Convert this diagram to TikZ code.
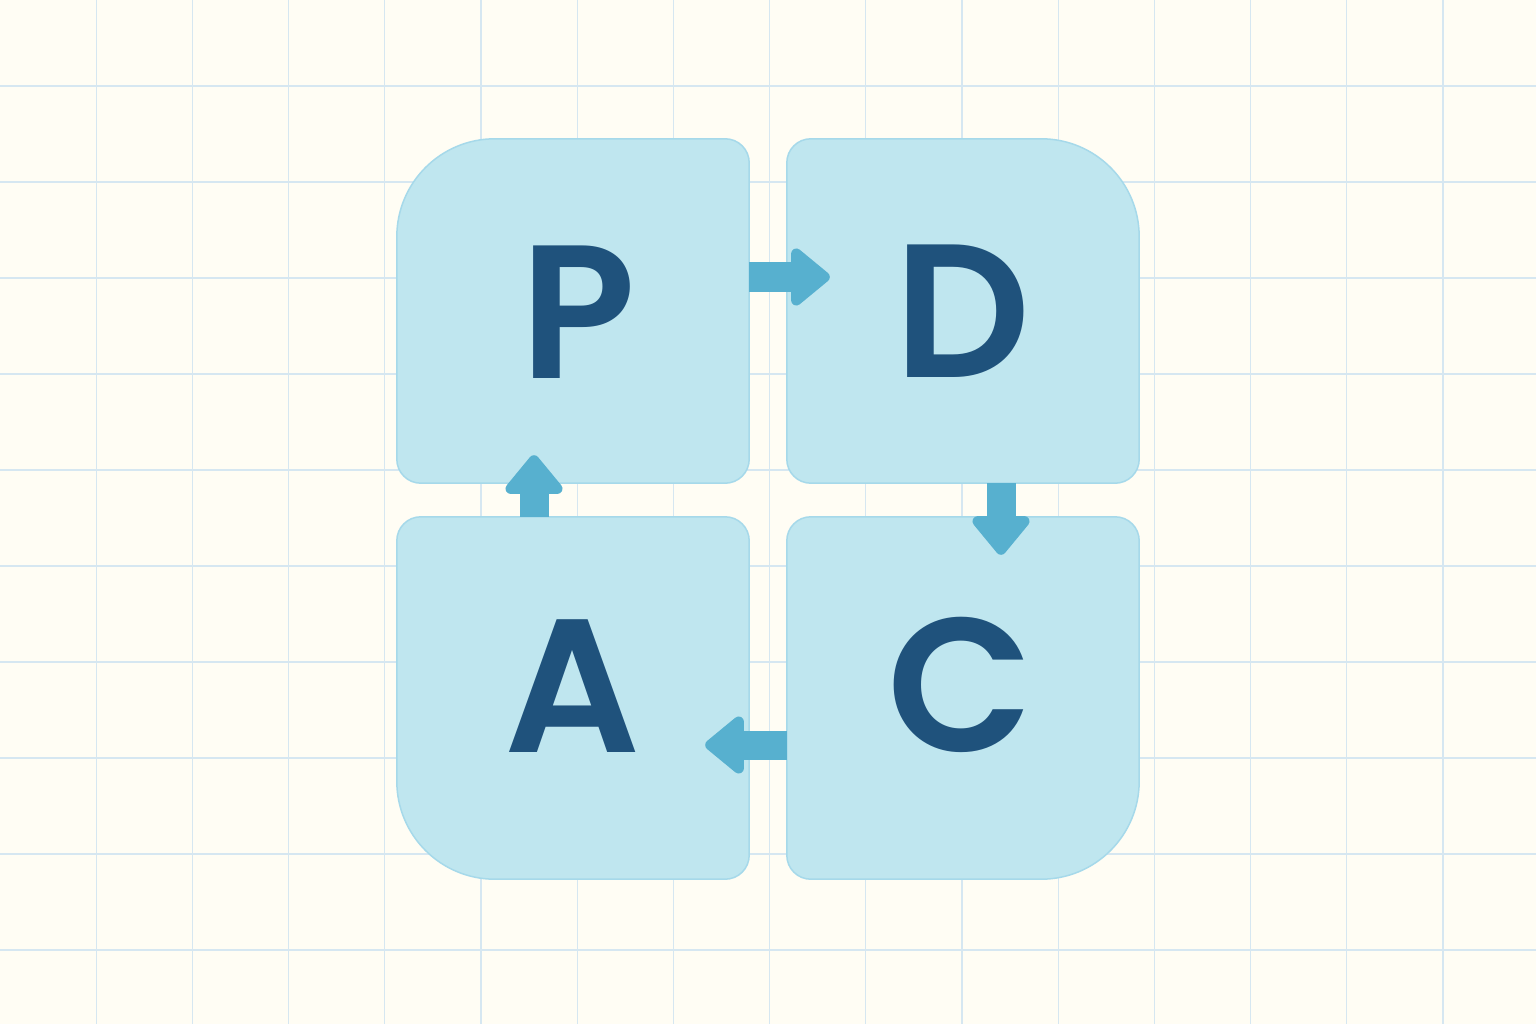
\documentclass[tikz,border=0pt]{standalone}
\usepackage{fontspec}
\setmainfont{Poppins}[BoldFont={Poppins SemiBold}]
\usetikzlibrary{arrows.meta}
\definecolor{paper}{HTML}{FFFDF4}
\definecolor{gridline}{HTML}{D6E7F1}
\definecolor{tilefill}{HTML}{BFE6EF}
\definecolor{tileedge}{HTML}{A6D9EA}
\definecolor{letterblue}{HTML}{1F527C}
\definecolor{flowblue}{HTML}{57B0CF}
\def\dtile{\path[tile]}
\tikzset{
  box/.style={minimum width=352pt, minimum height=344pt, inner sep=0pt},
  tall/.style={box, minimum height=362pt},
  tile/.style={fill=tilefill, draw=tileedge, line width=1.5pt},
  letter/.style={text=letterblue, inner sep=0pt, font=\fontsize{190}{190}\selectfont\bfseries},
  flow/.style={draw=flowblue, line width=29pt, -{Triangle[length=42pt,width=66pt,round]}},
}

\begin{document}
\begin{tikzpicture}[x=1pt,y=-1pt]
\useasboundingbox (0,0) rectangle (1536,1024);
\fill[paper] (0,0) rectangle (1536,1024);
\foreach \i in {1,...,15} \draw[gridline,line width=1.2pt] (96.2*\i,0) -- (96.2*\i,1024);
\foreach \j in {0,...,9} \draw[gridline,line width=1.2pt] (0,86+96*\j) -- (1536,86+96*\j);

% the four quarters
\node[box]  (P) at (573,311) {};
\node[box]  (D) at (963,311) {};
\node[tall] (A) at (573,698) {};
\node[tall] (C) at (963,698) {};

\dtile (P.north) [rounded corners=24pt] -- (P.north east) -- (P.south east) -- (P.south west) [rounded corners=98pt] -- (P.north west) [rounded corners=24pt] -- cycle;
\dtile (D.north) [rounded corners=98pt] -- (D.north east) [rounded corners=24pt] -- (D.south east) -- (D.south west) -- (D.north west) -- cycle;
\dtile (A.north) [rounded corners=24pt] -- (A.north east) -- (A.south east) [rounded corners=98pt] -- (A.south west) [rounded corners=24pt] -- (A.north west) -- cycle;
\dtile (C.north) [rounded corners=24pt] -- (C.north east) [rounded corners=98pt] -- (C.south east) [rounded corners=24pt] -- (C.south west) -- (C.north west) -- cycle;

\node[letter] (Pl) at ([xshift=5pt,yshift=-1pt]P.center) {P};
\node[letter] (Dl) at (D.center) {D};
\node[letter] (Al) at ([yshift=12pt]A.center) {A};
\node[letter] (Cl) at ([xshift=-3pt,yshift=13pt]C.center) {C};

% the cycle
\draw[flow] ([yshift=34pt]P.east) -- ([xshift=43pt,yshift=34pt]D.west);
\draw[flow] ([xshift=38pt]D.south) -- ([xshift=38pt,yshift=-38pt]C.north);
\draw[flow] ([yshift=-47pt]C.west) -- ([xshift=-44pt,yshift=-47pt]A.east);
\draw[flow] ([xshift=-39pt]A.north) -- ([xshift=-39pt,yshift=28pt]P.south);
\end{tikzpicture}
\end{document}
